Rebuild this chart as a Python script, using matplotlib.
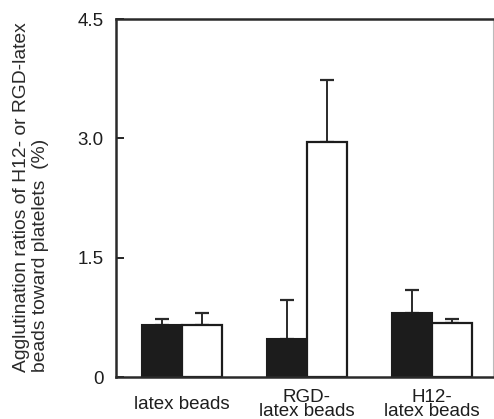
import matplotlib
matplotlib.use("Agg")
import matplotlib.pyplot as plt
import numpy as np

plt.rcParams['font.family'] = ['Liberation Sans', 'DejaVu Sans']

categories = ["latex beads", "RGD-\nlatex beads", "H12-\nlatex beads"]
black_vals = [0.65, 0.48, 0.80]
black_err = [0.08, 0.49, 0.29]
white_vals = [0.65, 2.95, 0.68]
white_err = [0.15, 0.78, 0.05]
yticks = [0, 1.5, 3.0, 4.5]
ytick_labels = ["0", "1.5", "3.0", "4.5"]
ylabel = "Agglutination ratios of H12- or RGD-latex\nbeads toward platelets  (%)"

W, H = 494, 419
fig = plt.figure(figsize=(W / 100, H / 100), dpi=100)
ax = fig.add_axes([116 / W, 42 / H, (493 - 116) / W, (377 - 19) / H])

x = np.arange(len(categories))
w = 0.32
ax.bar(x - w / 2, black_vals, w, color="#1c1c1c", edgecolor="#1c1c1c", linewidth=1.5, zorder=2)
ax.bar(x + w / 2, white_vals, w, color="white", edgecolor="#1c1c1c", linewidth=1.6, zorder=2)
ax.errorbar(x - w / 2, black_vals, yerr=[np.zeros(3), black_err], fmt="none",
            ecolor="#2a2a2a", elinewidth=1.4, capsize=5, capthick=1.6, zorder=1)
ax.errorbar(x + w / 2, white_vals, yerr=[np.zeros(3), white_err], fmt="none",
            ecolor="#2a2a2a", elinewidth=1.4, capsize=5, capthick=1.6, zorder=1)

ax.set_xlim(-0.525, 2.49)
ax.set_ylim(0, 4.5)
ax.set_yticks(yticks)
ax.set_yticklabels(ytick_labels, fontsize=13.5, color="#1e1e1e")
ax.set_xticks(x)
ax.set_xticklabels(categories, fontsize=13.5, color="#1e1e1e", linespacing=0.78, va="center")
ax.tick_params(axis="y", direction="in", length=6, width=1.2, pad=9)
ax.tick_params(axis="x", length=0, pad=20)
for s in ax.spines.values():
    s.set_linewidth(1.8)
    s.set_color("#2a2a2a")
ax.spines["right"].set_linewidth(0.8)
ax.spines["right"].set_color("#bbbbbb")

fig.text(31 / W, 1 - 372 / H, ylabel, rotation=90, ha="center", va="bottom",
         multialignment="left", fontsize=13.9, color="#2a2a2a", linespacing=1.12)

fig.savefig("out.png", dpi=100)
